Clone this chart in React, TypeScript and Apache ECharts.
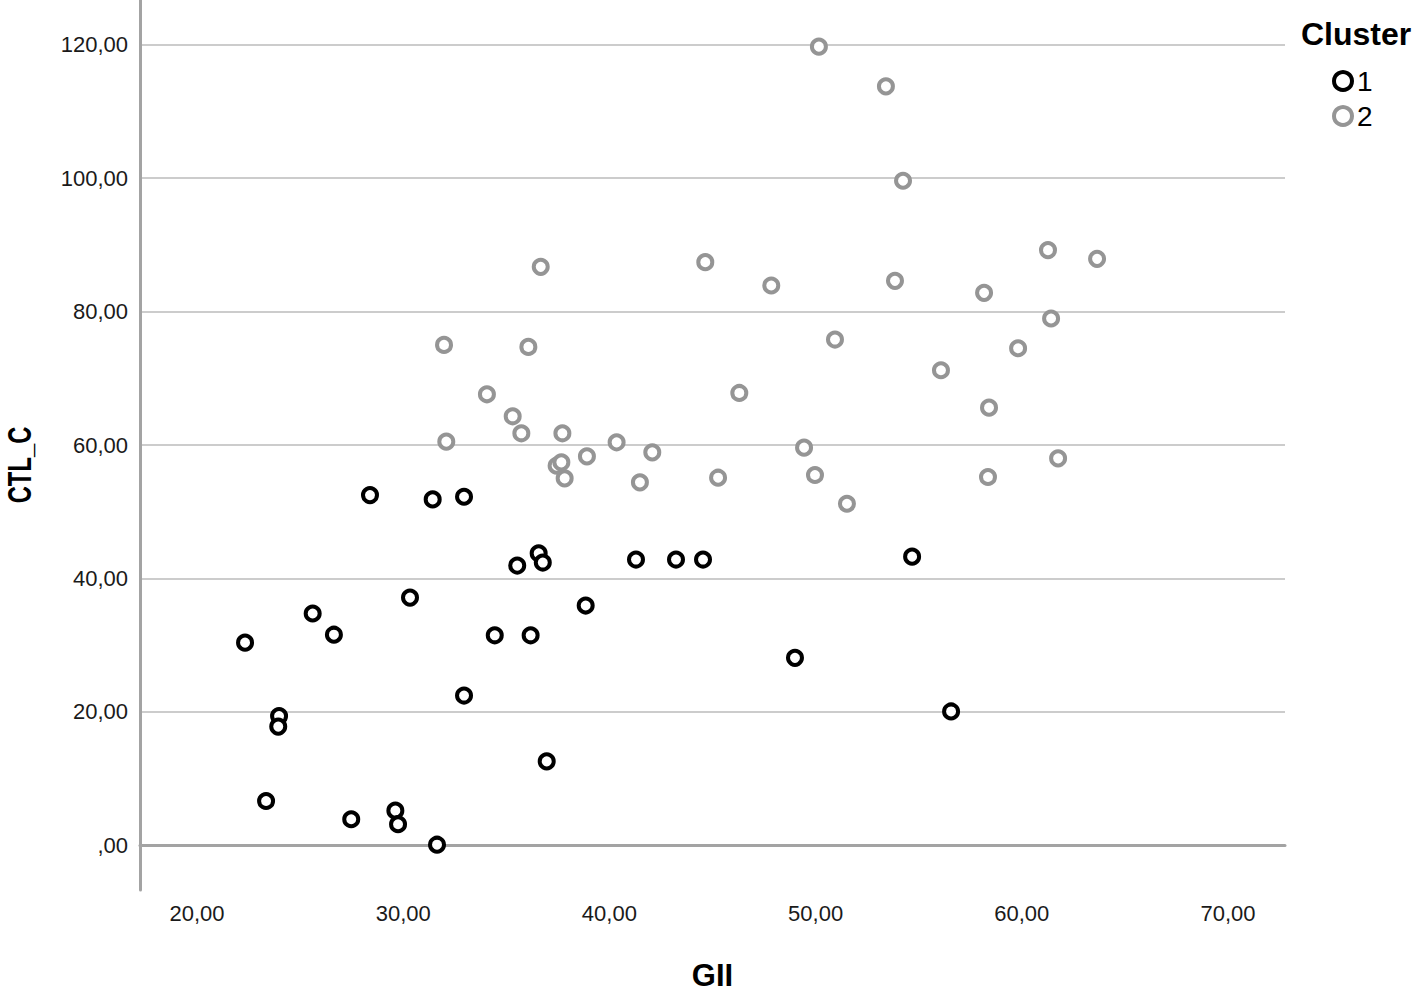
import React, { useEffect, useRef } from "react";
import * as echarts from "echarts";

const xTicks = [20, 30, 40, 50, 60, 70];
const yTicks = [0, 20, 40, 60, 80, 100, 120];

const cluster1X = [28.39, 31.43, 32.95, 22.33, 25.61, 26.64, 30.33, 23.35, 23.98, 23.94, 27.48, 29.62, 29.75, 31.64, 32.95, 34.44, 36.18, 35.53, 36.57, 36.77, 36.96, 38.85, 41.29, 43.23, 44.54, 49.0, 54.68, 56.57];
const cluster1Y = [52.49, 51.85, 52.24, 30.38, 34.75, 31.57, 37.13, 6.65, 19.38, 17.8, 3.91, 5.2, 3.17, 0.1, 22.45, 31.48, 31.48, 41.93, 43.76, 42.38, 12.59, 35.94, 42.83, 42.83, 42.83, 28.1, 43.27, 20.07];

const cluster2X = [50.16, 53.41, 54.24, 36.67, 44.65, 47.85, 53.85, 58.17, 61.27, 63.65, 61.42, 31.98, 36.07, 50.94, 59.82, 56.08, 34.06, 46.3, 58.41, 35.31, 35.73, 37.72, 32.09, 40.35, 42.08, 49.44, 38.91, 37.44, 37.67, 37.83, 41.48, 45.27, 49.97, 51.52, 58.36, 61.76];
const cluster2Y = [119.7, 113.75, 99.6, 86.7, 87.4, 83.9, 84.6, 82.8, 89.2, 87.9, 78.96, 75.0, 74.7, 75.8, 74.5, 71.2, 67.6, 67.8, 65.6, 64.3, 61.75, 61.75, 60.5, 60.4, 58.9, 59.6, 58.3, 56.9, 57.4, 55.0, 54.4, 55.1, 55.5, 51.2, 55.2, 58.0];

const clusterNames = ["1", "2"];
const clusterColors = ["#000000", "#959595"];

const FONT = '"Liberation Sans", Arial, Helvetica, sans-serif';

const fmt = (v: number) => {
  const s = v.toFixed(2).replace(".", ",");
  return v === 0 ? ",00" : s;
};

export default function App() {
  const ref = useRef<HTMLDivElement>(null);
  useEffect(() => {
    if (!ref.current) return;
    const chart = echarts.init(ref.current, undefined, { renderer: "svg" });
    const series = [cluster1X, cluster2X].map((xs, i) => {
      const ys = i === 0 ? cluster1Y : cluster2Y;
      return {
        name: clusterNames[i],
        type: "scatter",
        symbol: "circle",
        symbolSize: 14,
        z: i === 0 ? 3 : 2,
        itemStyle: { color: "#ffffff", borderColor: clusterColors[i], borderWidth: 4, opacity: 1 },
        data: xs.map((x, k) => [x, ys[k]]),
      };
    });
    chart.setOption({
      animation: false,
      backgroundColor: "#ffffff",
      textStyle: { fontFamily: FONT },
      title: {
        text: "Cluster",
        left: 1301,
        top: 18,
        textStyle: { fontFamily: FONT, fontSize: 32, fontWeight: "bold", color: "#000" },
        padding: 0,
      },
      legend: {
        orient: "vertical",
        left: 1332,
        top: 67,
        itemWidth: 18,
        itemHeight: 18,
        itemGap: 7,
        padding: 0,
        textStyle: { fontFamily: FONT, fontSize: 28, color: "#000", lineHeight: 28, padding: [0, 0, 0, 0] },
        data: clusterNames.map((n, i) => ({
          name: n,
          icon: "circle",
          itemStyle: { color: "#ffffff", borderColor: clusterColors[i], borderWidth: 4 },
        })),
      },
      grid: { left: 140, right: 131, top: 0, bottom: 99, containLabel: false },
      xAxis: {
        type: "value",
        min: 17.236,
        max: 72.764,
        name: "GII",
        nameLocation: "middle",
        nameGap: 70,
        nameTextStyle: { fontFamily: FONT, fontSize: 31, fontWeight: "bold", color: "#000" },
        axisLine: { show: true, lineStyle: { color: "#a3a3a3", width: 3 } },
        axisTick: { show: false, customValues: xTicks },
        splitLine: { show: false },
        axisLabel: {
          customValues: xTicks,
          formatter: (v: number) => fmt(v),
          fontFamily: FONT,
          fontSize: 22,
          color: "#1a1a1a",
          margin: 12,
        },
      },
      yAxis: {
        type: "value",
        min: -6.69,
        max: 126.69,
        axisLine: { show: true, lineStyle: { color: "#a3a3a3", width: 3 } },
        axisTick: { show: false, customValues: yTicks },
        splitLine: { show: true, lineStyle: { color: "#cccccc", width: 2 } },
        axisLabel: {
          customValues: yTicks,
          formatter: (v: number) => fmt(v),
          fontFamily: FONT,
          fontSize: 22,
          color: "#1a1a1a",
          margin: 12,
        },
      },
      graphic: [
        {
          type: "text",
          x: 19,
          y: 465,
          rotation: Math.PI / 2,
          scaleX: 0.7,
          style: {
            text: "CTL_C",
            fontFamily: FONT,
            fontSize: 34,
            fontWeight: "bold",
            fill: "#000",
            align: "center",
            verticalAlign: "middle",
          },
        },
      ],
      series,
    });
    return () => chart.dispose();
  }, []);
  return (
    <div
      ref={ref}
      style={{ position: "absolute", left: 0, top: 0, width: 1416, height: 996, background: "#fff" }}
    />
  );
}
